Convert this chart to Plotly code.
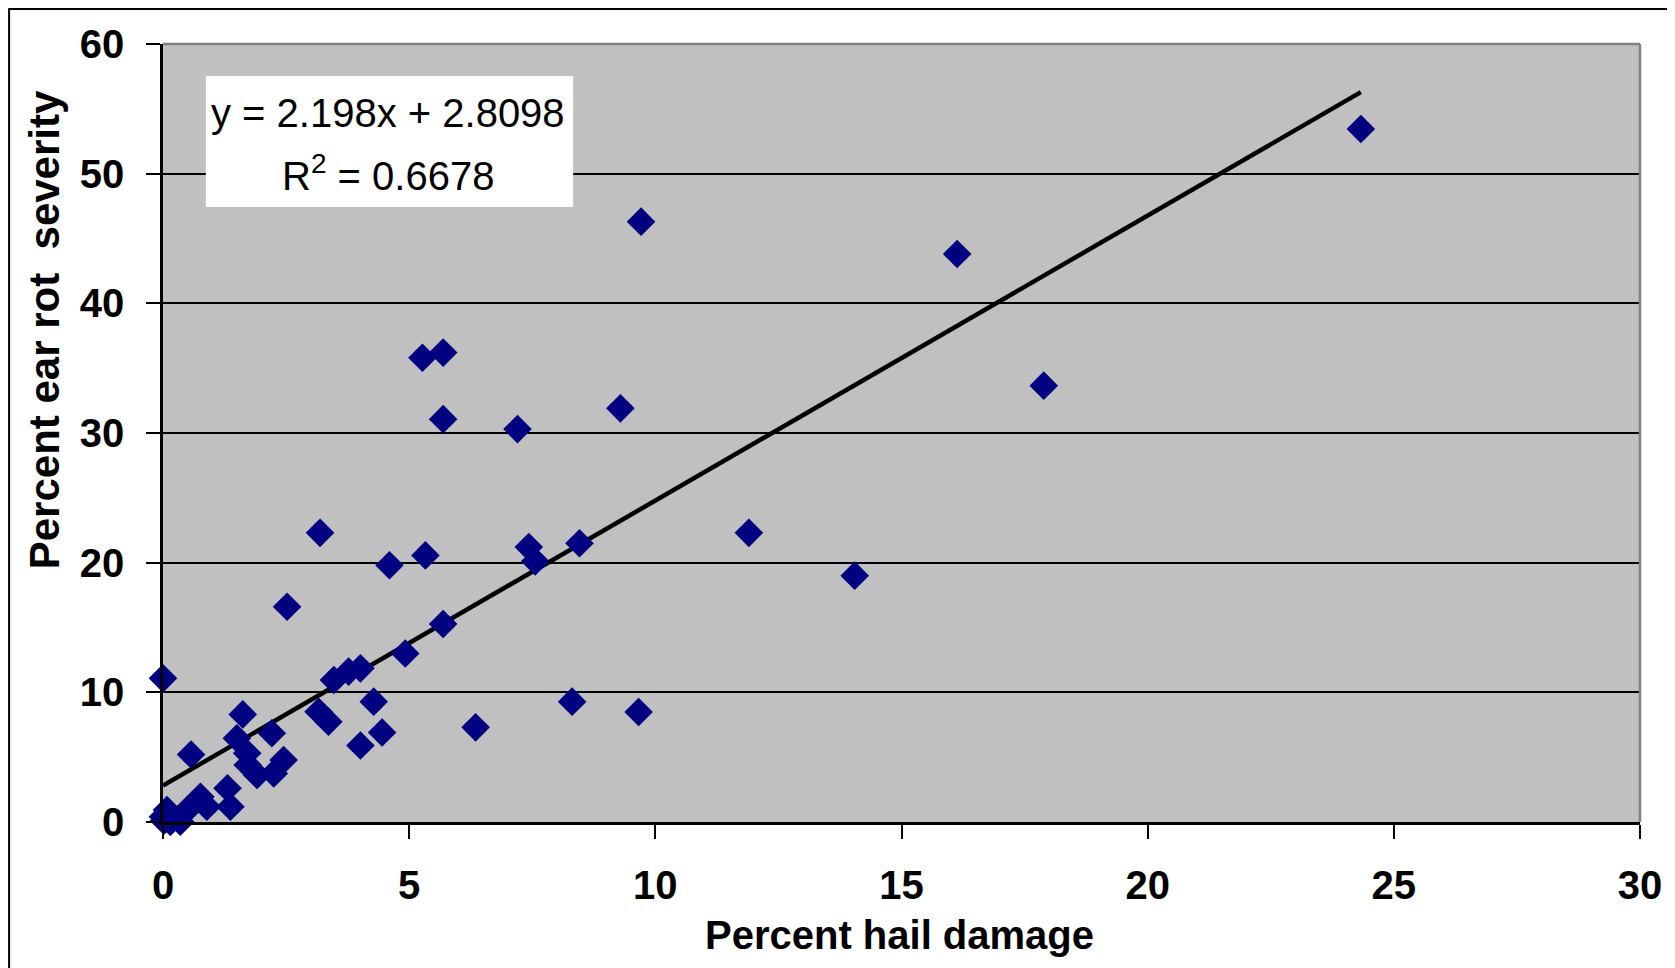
import plotly.graph_objects as go

# Data
hail_damage = [24.33, 9.71, 16.13, 17.89, 5.27, 5.69, 5.69, 7.20, 9.29, 3.19,
               4.60, 5.33, 7.43, 7.56, 8.46, 11.90, 14.05, 2.52, 5.69, 4.92,
               0.0, 3.47, 3.77, 4.01, 4.28, 8.31, 9.66, 6.35, 4.45, 4.01,
               3.16, 3.36, 1.62, 2.21, 1.50, 1.71, 0.57, 2.45, 1.91, 2.25,
               1.31, 1.37, 0.76, 0.89, 0.49, 0.08, 0.0, 0.15, 0.35, 0.02, 1.72]
ear_rot = [53.45, 46.3, 43.8, 33.65, 35.8, 36.2, 31.07, 30.3, 31.9, 22.3,
           19.8, 20.56, 21.2, 20.1, 21.5, 22.3, 19.0, 16.6, 15.27, 13.0,
           11.08, 10.95, 11.6, 11.85, 9.28, 9.28, 8.48, 7.3, 6.9, 5.9,
           8.5, 7.73, 8.3, 6.84, 6.45, 5.3, 5.2, 4.78, 3.62, 3.75,
           2.6, 1.18, 1.95, 1.18, 0.93, 0.93, 0.4, 0.0, 0.02, 0.1, 4.4]

slope = 2.198
intercept = 2.8098
r_squared = 0.6678

x_ticks = [0, 5, 10, 15, 20, 25, 30]
y_ticks = [0, 10, 20, 30, 40, 50, 60]

x_title = "Percent hail damage"
y_title = "Percent ear rot\u00a0 severity"

FONT = "Arial, 'Liberation Sans', sans-serif"

line_x = [0, max(hail_damage)]
line_y = [slope * v + intercept for v in line_x]

fig = go.Figure()
fig.add_trace(go.Scatter(
    x=line_x, y=line_y, mode="lines",
    line=dict(color="black", width=4.5),
    showlegend=False, hoverinfo="skip",
))
fig.add_trace(go.Scatter(
    x=hail_damage, y=ear_rot, mode="markers",
    marker=dict(symbol="diamond", size=22, color="#000080", line=dict(width=0)),
    cliponaxis=False, showlegend=False,
))

fig.update_layout(
    width=1667, height=960,
    margin=dict(l=155, r=35, t=36, b=146),
    paper_bgcolor="white",
    plot_bgcolor="#C0C0C0",
    font=dict(family=FONT, color="black"),
    xaxis=dict(
        range=[0, 30], tickvals=x_ticks, ticktext=[str(v) for v in x_ticks],
        showgrid=False, zeroline=False,
        showline=True, linecolor="black", linewidth=3,
        ticks="outside", ticklen=14, tickwidth=2, tickcolor="black",
        tickfont=dict(family=FONT, size=40, color="black", weight="bold"),
        ticklabelstandoff=12,
    ),
    yaxis=dict(
        range=[0, 60], tickvals=y_ticks, ticktext=[str(v) for v in y_ticks],
        showgrid=True, gridcolor="black", gridwidth=2, zeroline=False,
        showline=True, linecolor="black", linewidth=2.5,
        ticks="outside", ticklen=14, tickwidth=2, tickcolor="black",
        tickfont=dict(family=FONT, size=40, color="black", weight="bold"),
        ticklabelstandoff=14,
    ),
    shapes=[
        # grey top and right border of plot area
        dict(type="line", xref="paper", yref="paper", x0=0, x1=1, y0=1, y1=1,
             line=dict(color="#808080", width=2.5)),
        dict(type="line", xref="paper", yref="paper", x0=1, x1=1, y0=0, y1=1,
             line=dict(color="#808080", width=2.5)),
        # equation box
        dict(type="rect", xref="paper", yref="paper", x0=0.029, x1=0.2777,
             y0=0.7905, y1=0.9589, fillcolor="white", line=dict(width=0), layer="above"),
        # outer chart frame
        dict(type="rect", xref="paper", yref="paper", x0=-0.1042, x1=1.0221,
             y0=-0.35, y1=1.045, line=dict(color="black", width=2), layer="above"),
    ],
    annotations=[
        dict(text=f"y = {slope}x + {intercept}", xref="paper", yref="paper",
             x=0.1523, y=0.9113, xanchor="center", yanchor="middle", showarrow=False,
             font=dict(family=FONT, size=40, color="black")),
        dict(text=f"R<sup>2</sup> = {r_squared}", xref="paper", yref="paper",
             x=0.1523, y=0.8342, xanchor="center", yanchor="middle", showarrow=False,
             font=dict(family=FONT, size=40, color="black")),
        dict(text=x_title, xref="paper", yref="paper",
             x=0.4984, y=-0.1452, xanchor="center", yanchor="middle", showarrow=False,
             font=dict(family=FONT, size=40, color="black", weight="bold")),
        dict(text=y_title, xref="paper", yref="paper", textangle=-90,
             x=-0.0797, y=0.6324, xanchor="center", yanchor="middle", showarrow=False,
             font=dict(family=FONT, size=42, color="black", weight="bold")),
    ],
)

fig.write_html("out.html")
